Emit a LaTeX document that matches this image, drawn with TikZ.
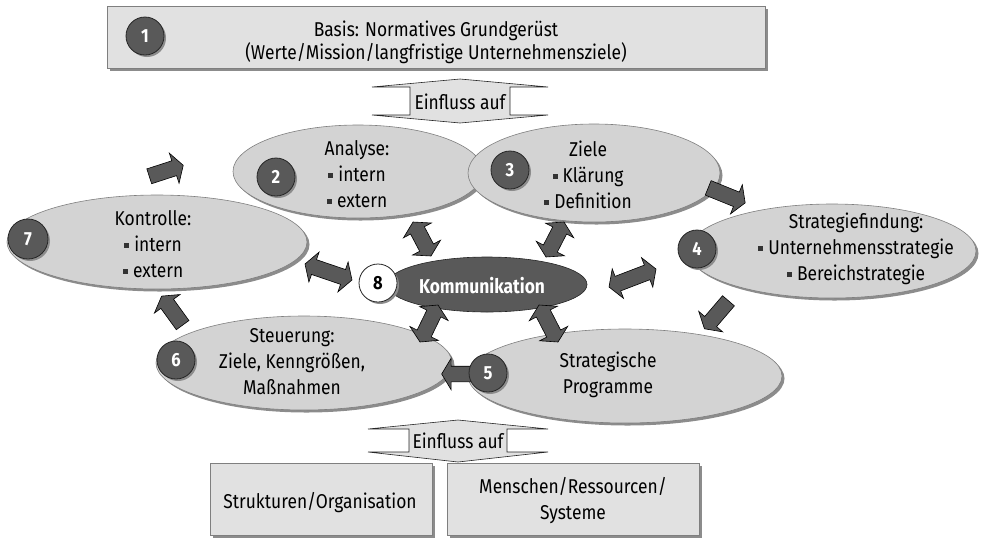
\documentclass[tikz,border=0pt]{standalone}
\usepackage{fontspec}
\setmainfont[FakeStretch=0.87]{Fira Sans}
\usetikzlibrary{calc,shapes.geometric,shapes.arrows,shadows}
\definecolor{darkfill}{HTML}{595959}
\definecolor{ellfill}{HTML}{D3D3D3}
\definecolor{boxfill}{HTML}{E1E1E1}
\definecolor{edge}{HTML}{7F7F7F}
\definecolor{shade}{HTML}{8C8C8C}
\newcommand\bulsq{\textcolor{black!80}{\rule[0.17em]{0.26em}{0.26em}}\hspace{0.25em}}
% block arrow from one named coordinate to another
\newcommand\blockarrow[3]{%
  \path let \p1=($(#3)-(#2)$), \n1={atan2(\y1,\x1)}, \n2={veclen(\x1,\y1)} in
    node[#1, minimum height=\n2, rotate=\n1] at ($(#2)!0.5!(#3)$) {};}
\tikzset{
  phase/.style={ellipse, fill=ellfill, draw=edge, line width=0.6pt, inner sep=0pt,
    drop shadow={shadow xshift=2.5pt, shadow yshift=-2.5pt, fill=shade, opacity=1}},
  lbl/.style={align=center, font=\fontsize{20}{26}\selectfont, inner sep=0pt},
  numdisc/.style={circle, fill=darkfill, draw=black!85, line width=0.8pt, minimum size=38pt,
    inner sep=0pt, text=white, font=\bfseries\fontsize{19}{19}\selectfont,
    drop shadow={shadow xshift=2pt, shadow yshift=-2pt, fill=shade, opacity=1}},
  panel/.style={rectangle, fill=boxfill, draw=edge, line width=0.8pt, inner sep=0pt,
    drop shadow={shadow xshift=3pt, shadow yshift=-3pt, fill=shade, opacity=1}},
  blk/.style={single arrow, fill=darkfill, draw=black, line width=0.6pt, inner xsep=0pt,
    inner ysep=7.5pt, single arrow head extend=8pt, single arrow tip angle=118},
  dblk/.style={double arrow, fill=darkfill, draw=black, line width=0.6pt, inner xsep=0pt,
    inner ysep=7.5pt, double arrow head extend=8pt, double arrow tip angle=118},
  influx/.style={fill=boxfill, draw=black!85, line width=0.6pt}
}
\begin{document}
\begin{tikzpicture}[x=1pt,y=-1pt]
\useasboundingbox (0,0) rectangle (984,539);

% normative base
\node[panel, minimum width=658pt, minimum height=62pt] (basis) at (436,37) {};
\node[lbl, font=\fontsize{20}{23}\selectfont] (basisText) at (436,42)
  {Basis: Normatives Grundgerüst\\(Werte/Mission/langfristige Unternehmensziele)};
\node[numdisc] (n1) at (145,36) {1};

% upper influence arrow
\draw[influx] (372,87) -- (460,79) -- (548,87) -- (510,87) -- (510,115) -- (548,115)
  -- (460,123) -- (372,115) -- (410,115) -- (410,87) -- cycle;
\node[lbl] (inf1) at (460,102) {Einfluss auf};

% phases of the cycle
\node[phase, minimum width=250pt, minimum height=93pt] (e2) at (358,171.5) {};
\node[phase, minimum width=252pt, minimum height=98pt] (e3) at (594,173) {};
\node[phase, minimum width=300pt, minimum height=94pt] (e7) at (157,242) {};
\node[phase, minimum width=288pt, minimum height=94pt] (e4) at (832,251) {};
\node[phase, minimum width=296pt, minimum height=94pt] (e6) at (304,363) {};
\node[phase, minimum width=314pt, minimum height=94pt] (e5) at (625,376) {};
\node[ellipse, fill=darkfill, draw=black!85, line width=0.6pt, minimum width=200pt,
  minimum height=55pt, inner sep=0pt] (komm) at (487,284.5) {};

\node[lbl] (t2) at (357,174) {Analyse:\\\bulsq intern\\\bulsq extern};
\node[lbl] (t3) at (588,175) {Ziele\\\bulsq Klärung\\\bulsq Definition};
\node[lbl] (t7) at (153,244) {Kontrolle:\\\bulsq intern\\\bulsq extern};
\node[lbl] (t4) at (856,249) {Strategiefindung:\\\bulsq Unternehmensstrategie\\\bulsq Bereichstrategie};
\node[lbl] (t6) at (292,362) {Steuerung:\\Ziele, Kenngrößen,\\Maßnahmen};
\node[lbl] (t5) at (608,375) {Strategische\\Programme};
\node[lbl, text=white, font=\bfseries\fontsize{20}{20}\selectfont] (tk) at (482,286) {Kommunikation};

% cycle arrows
\coordinate (a72s) at (147,177); \coordinate (a72e) at (181,166);
\coordinate (a34s) at (706,187); \coordinate (a34e) at (743,202);
\coordinate (a45s) at (730,299); \coordinate (a45e) at (706,327);
\coordinate (a56s) at (479,374); \coordinate (a56e) at (444,374);
\coordinate (a67s) at (184,327); \coordinate (a67e) at (163,298);
\blockarrow{blk}{a72s}{a72e}
\blockarrow{blk}{a34s}{a34e}
\blockarrow{blk}{a45s}{a45e}
\blockarrow{blk}{a56s}{a56e}
\blockarrow{blk}{a67s}{a67e}

% communication links
\coordinate (d2a) at (413,222); \coordinate (d2b) at (431,256);
\coordinate (d3a) at (564,222); \coordinate (d3b) at (546,257);
\coordinate (d4a) at (609,287); \coordinate (d4b) at (656,269);
\coordinate (d6a) at (438,305); \coordinate (d6b) at (420,342);
\coordinate (d5a) at (539,305); \coordinate (d5b) at (558,342);
\coordinate (d7a) at (305,264); \coordinate (d7b) at (352,280);
\blockarrow{dblk}{d2a}{d2b}
\blockarrow{dblk}{d3a}{d3b}
\blockarrow{dblk}{d4a}{d4b}
\blockarrow{dblk}{d6a}{d6b}
\blockarrow{dblk}{d5a}{d5b}
\blockarrow{dblk}{d7a}{d7b}

% numbered discs
\node[numdisc] (n2) at (276,177) {2};
\node[numdisc] (n3) at (510,170) {3};
\node[numdisc] (n4) at (697,249) {4};
\node[numdisc] (n5) at (488,373) {5};
\node[numdisc] (n6) at (176,360) {6};
\node[numdisc, minimum size=40pt] (n7) at (28,239) {7};
\node[numdisc, fill=white, text=black, drop shadow={opacity=0}] (n8) at (378,283) {8};

% lower influence arrow
\draw[influx] (368,429) -- (458,420) -- (548,429) -- (507,429) -- (507,452) -- (548,452)
  -- (458,462) -- (368,452) -- (409,452) -- (409,429) -- cycle;
\node[lbl] (inf2) at (458,441) {Einfluss auf};

% affected areas
\node[panel, minimum width=222pt, minimum height=72pt] (org) at (321,499) {};
\node[panel, minimum width=252pt, minimum height=72pt] (res) at (573,499) {};
\node[lbl] (orgText) at (320,503) {Strukturen/Organisation};
\node[lbl] (resText) at (573,501) {Menschen/Ressourcen/\\Systeme};
\end{tikzpicture}
\end{document}
